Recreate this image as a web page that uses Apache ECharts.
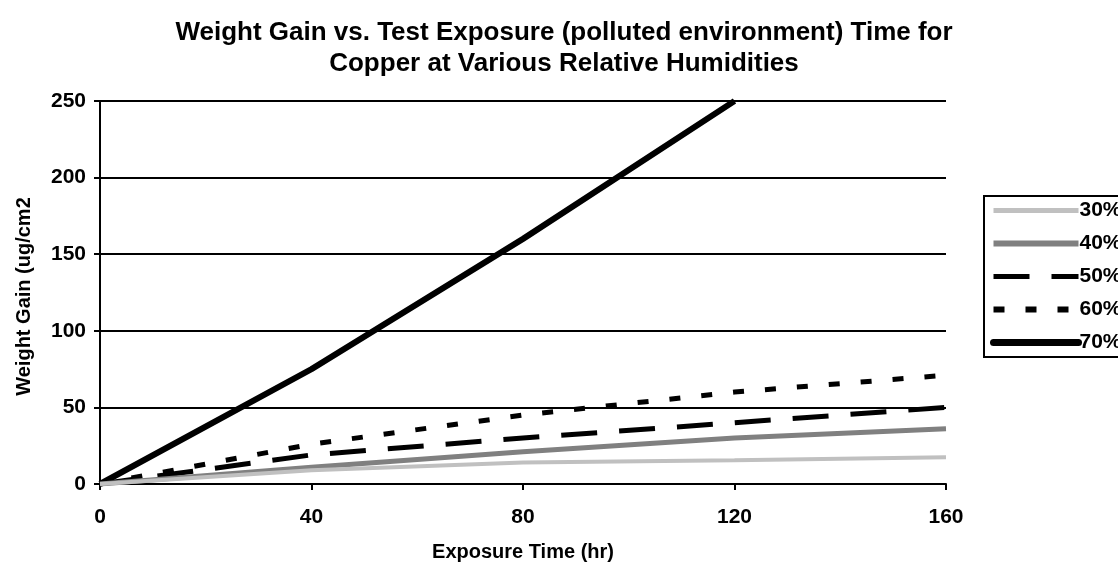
<!DOCTYPE html>
<html>
<head>
<meta charset="utf-8">
<script src="https://cdn.jsdelivr.net/npm/echarts@6/dist/echarts.min.js"></script>
<style>html,body{margin:0;padding:0;background:#fff;}#c{width:1118px;height:567px;}</style>
</head>
<body>
<div id="c"></div>
<script>
const hours = [0, 40, 80, 120, 160];
const xTicks = [0, 40, 80, 120, 160];
const yTicks = [0, 50, 100, 150, 200, 250];
const rh30 = [0, 9, 14, 15.5, 17.5];
const rh40 = [0, 11, 21, 30, 36];
const rh50 = [0, 19, 30, 40, 50];
const rh60 = [0, 26, 45, 60, 71];
const rh70 = [0, 75, 160, 250];
const seriesNames = ['30%', '40%', '50%', '60%', '70%'];

const font = 'Liberation Sans, Arial, sans-serif';
function pts(vals) { return vals.map((v, i) => [hours[i], v]); }

const chart = echarts.init(document.getElementById('c'), null, {renderer: 'canvas'});
const styles = [
  {color: '#c0c0c0', width: 4, type: 'solid'},
  {color: '#808080', width: 5, type: 'solid'},
  {color: '#000000', width: 5, type: [36, 22]},
  {color: '#000000', width: 5, type: [11, 21]},
  {color: '#000000', width: 6, type: 'solid'}
];
const legendWidths = [5, 6, 5, 6, 7];
const dataSets = [rh30, rh40, rh50, rh60, rh70];

chart.setOption({
  animation: false,
  backgroundColor: '#ffffff',
  title: {
    text: 'Weight Gain vs. Test Exposure (polluted environment) Time for\nCopper at Various Relative Humidities',
    left: 559, top: 12, textAlign: 'center',
    textStyle: {fontFamily: font, fontWeight: 'bold', fontSize: 26, lineHeight: 31, color: '#000'}
  },
  grid: {left: 100, right: 172, top: 101, bottom: 82, containLabel: false},
  legend: {
    orient: 'vertical', left: 984, top: 196,
    itemWidth: 85, itemHeight: 6, itemGap: 12,
    padding: [4, 0, 4, 6],
    borderColor: '#000', borderWidth: 2,
    itemStyle: {opacity: 0},
    textStyle: {fontFamily: font, fontWeight: 'bold', fontSize: 21, color: '#000', padding: [0,0,0,-4]},
    data: seriesNames.map((n, i) => ({
      name: n,
      lineStyle: {width: legendWidths[i], color: styles[i].color, type: styles[i].type, cap: i === 4 ? 'round' : 'butt'}
    }))
  },
  xAxis: {
    type: 'value', min: 0, max: 160, interval: 40,
    name: 'Exposure Time (hr)', nameLocation: 'middle', nameGap: 58,
    nameTextStyle: {fontFamily: font, fontWeight: 'bold', fontSize: 20, color: '#000'},
    axisLine: {lineStyle: {color: '#000', width: 2}},
    axisTick: {show: true, length: 6, inside: false, lineStyle: {color: '#000', width: 2}},
    axisLabel: {fontFamily: font, fontWeight: 'bold', fontSize: 21, color: '#000', margin: 23,
      formatter: v => xTicks.includes(v) ? String(v) : ''},
    splitLine: {show: false}
  },
  yAxis: {
    type: 'value', min: 0, max: 250, interval: 50,
    name: 'Weight Gain (ug/cm2', nameLocation: 'middle', nameGap: 66,
    nameTextStyle: {fontFamily: font, fontWeight: 'bold', fontSize: 20, color: '#000', padding: [0, 8, 0, 0]},
    axisLine: {show: true, lineStyle: {color: '#000', width: 2}},
    axisTick: {show: true, length: 6, lineStyle: {color: '#000', width: 2}},
    axisLabel: {fontFamily: font, fontWeight: 'bold', fontSize: 21, color: '#000', margin: 14,
      formatter: v => yTicks.includes(v) ? String(v) : ''},
    splitLine: {show: true, lineStyle: {color: '#000', width: 2}}
  },
  series: dataSets.map((d, i) => ({
    name: seriesNames[i], type: 'line', data: pts(d),
    symbol: 'none', showSymbol: false, clip: true,
    lineStyle: styles[i], itemStyle: {color: styles[i].color},
    z: 10 - i
  }))
});
</script>
</body>
</html>
